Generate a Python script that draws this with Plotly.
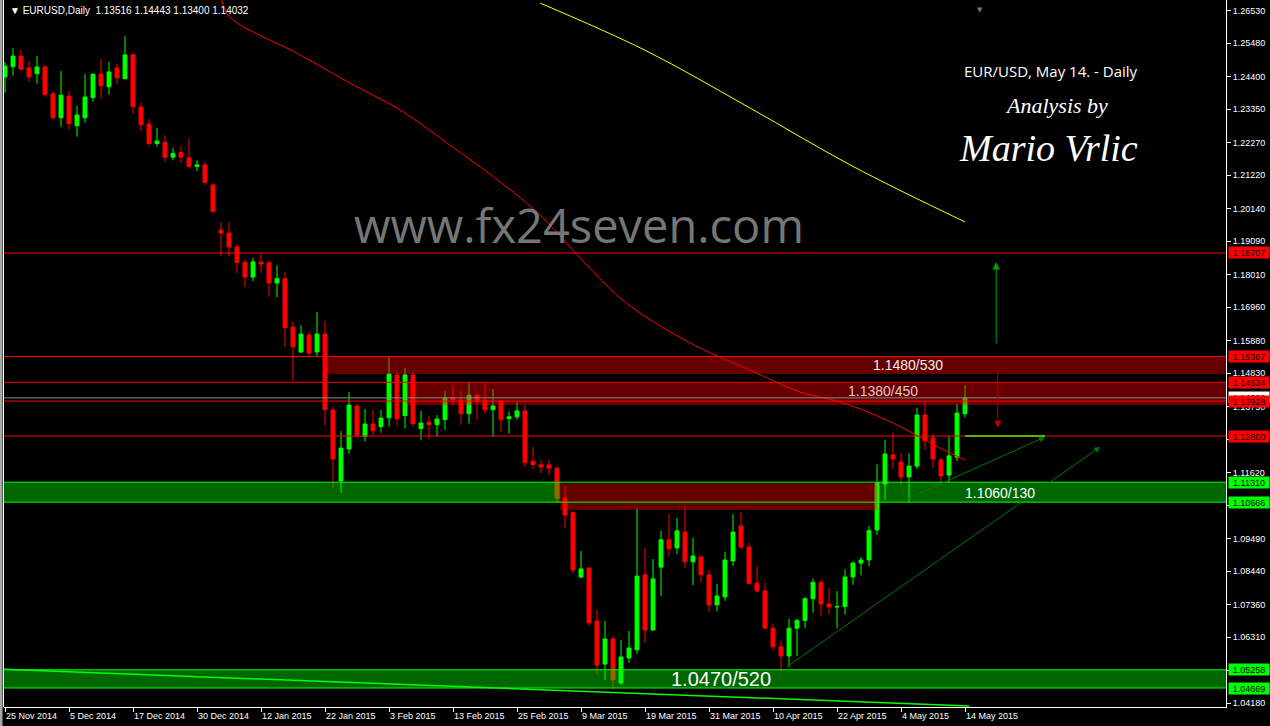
import plotly.graph_objects as go

# ---------------- data ----------------
bars = list(range(121))  # 25 Nov 2014 ... 14 May 2015 (daily bars)

opens = [1.2439,1.2472,1.2506,1.2468,1.2449,1.2471,1.2384,1.2307,1.2377,1.2281,
         1.2307,1.2372,1.2448,1.2407,1.2468,1.2433,1.2510,1.2342,1.2287,1.2224,
         1.2228,1.2180,1.2195,1.2178,1.2150,1.2155,1.2090,1.1945,1.1935,1.1890,
         1.1840,1.1793,1.1842,1.1839,1.1774,1.1788,1.1632,1.1551,1.1606,1.1551,
         1.1609,1.1364,1.1135,1.1238,1.1377,1.1278,1.1319,1.1310,1.1339,1.1477,
         1.1346,1.1477,1.1304,1.1325,1.1317,1.1333,1.1404,1.1396,1.1352,1.1412,
         1.1396,1.1365,1.1393,1.1336,1.1342,1.1361,1.1199,1.1187,1.1187,1.1176,
         1.1080,1.1033,1.0825,1.0854,1.0683,1.0544,1.0625,1.0483,1.0564,1.0590,
         1.0832,1.0654,1.0857,1.0945,1.0919,1.0970,1.0874,1.0890,1.0832,1.0735,
         1.0761,1.0877,1.0990,1.0922,1.0805,1.0780,1.0660,1.0600,1.0570,1.0660,
         1.0685,1.0755,1.0808,1.0738,1.0728,1.0730,1.0825,1.0870,1.0880,1.0977,
         1.1125,1.1219,1.1196,1.1148,1.1183,1.1348,1.1274,1.1203,1.1154,1.1212,
         1.13516]
highs = [1.2487,1.2532,1.2526,1.2490,1.2506,1.2477,1.2390,1.2458,1.2393,1.2345,
         1.2448,1.2449,1.2497,1.2487,1.2481,1.2571,1.2516,1.2355,1.2303,1.2274,
         1.2250,1.2210,1.2215,1.2240,1.2170,1.2165,1.2095,1.1970,1.1970,1.1900,
         1.1850,1.1855,1.1869,1.1845,1.1830,1.1810,1.1648,1.1638,1.1616,1.1680,
         1.1651,1.1374,1.1296,1.1422,1.1383,1.1367,1.1364,1.1364,1.1535,1.1487,
         1.1500,1.1487,1.1361,1.1345,1.1348,1.1425,1.1445,1.1429,1.1451,1.1416,
         1.1452,1.1432,1.1396,1.1359,1.1390,1.1380,1.1246,1.1203,1.1203,1.1181,
         1.1117,1.1036,1.0909,1.0857,1.0719,1.0683,1.0635,1.0622,1.0651,1.1048,
         1.0919,1.0883,1.0974,1.1028,1.1016,1.1054,1.0951,1.0896,1.0848,1.0803,
         1.0906,1.1028,1.1035,1.0935,1.0860,1.0805,1.0675,1.0620,1.0690,1.0690,
         1.0760,1.0820,1.0815,1.0790,1.0780,1.0850,1.0875,1.0890,1.0990,1.1189,
         1.1267,1.1290,1.1225,1.1225,1.1371,1.1390,1.1287,1.1209,1.1280,1.1383,
         1.14443]
lows = [1.2388,1.2443,1.2461,1.2423,1.2417,1.2375,1.2301,1.2278,1.2269,1.2246,
        1.2291,1.2359,1.2369,1.2382,1.2415,1.2432,1.2320,1.2265,1.2217,1.2214,
        1.2165,1.2170,1.2162,1.2143,1.2135,1.2090,1.2000,1.1860,1.1860,1.1805,
        1.1760,1.1780,1.1805,1.1730,1.1728,1.1567,1.1459,1.1548,1.1538,1.1538,
        1.1314,1.1113,1.1097,1.1223,1.1275,1.1262,1.1281,1.1291,1.1310,1.1314,
        1.1304,1.1310,1.1268,1.1271,1.1278,1.1300,1.1378,1.1317,1.1320,1.1333,
        1.1352,1.1278,1.1294,1.1288,1.1333,1.1181,1.1175,1.1161,1.1154,1.1064,
        1.0982,1.0837,1.0821,1.0667,1.0509,1.0493,1.0461,1.0477,1.0548,1.0577,
        1.0612,1.0652,1.0764,1.0890,1.0899,1.0854,1.0799,1.0809,1.0712,1.0715,
        1.0748,1.0861,1.0915,1.0800,1.0775,1.0660,1.0590,1.0520,1.0535,1.0570,
        1.0660,1.0710,1.0700,1.0705,1.0660,1.0705,1.0800,1.0830,1.0860,1.0960,
        1.1074,1.1174,1.1122,1.1067,1.1174,1.1235,1.1177,1.1129,1.1132,1.1199,
        1.13400]
closes = [1.2474,1.2506,1.2464,1.2439,1.2471,1.2382,1.2307,1.2380,1.2288,1.2316,
          1.2374,1.2448,1.2411,1.2455,1.2436,1.2510,1.2343,1.2285,1.2224,1.2232,
          1.2180,1.2192,1.2180,1.2150,1.2155,1.2098,1.2005,1.1935,1.1890,1.1840,
          1.1793,1.1842,1.1835,1.1774,1.1788,1.1630,1.1568,1.1609,1.1548,1.1609,
          1.1365,1.1206,1.1241,1.1380,1.1283,1.1319,1.1297,1.1338,1.1480,1.1336,
          1.1477,1.1320,1.1322,1.1317,1.1335,1.1403,1.1397,1.1352,1.1412,1.1392,
          1.1365,1.1377,1.1333,1.1342,1.1361,1.1194,1.1188,1.1180,1.1176,1.1079,
          1.1025,1.0848,1.0851,1.0677,1.0541,1.0625,1.0493,1.0567,1.0596,1.0828,
          1.0654,1.0819,1.0945,1.0916,1.0974,1.0874,1.0893,1.0832,1.0735,1.0764,
          1.0880,1.0970,1.0922,1.0805,1.0780,1.0660,1.0600,1.0570,1.0660,1.0685,
          1.0755,1.0808,1.0738,1.0728,1.0730,1.0825,1.0870,1.0880,1.0975,1.1129,
          1.1222,1.1206,1.1148,1.1183,1.1348,1.1264,1.1206,1.1151,1.1216,1.1354,
          1.14032]

date_tick_bars = [0, 8, 16, 24, 32, 40, 48, 56, 64, 72, 80, 88, 96, 104, 112, 120]
date_tick_labels = ["25 Nov 2014", "5 Dec 2014", "17 Dec 2014", "30 Dec 2014",
                    "12 Jan 2015", "22 Jan 2015", "3 Feb 2015", "13 Feb 2015",
                    "25 Feb 2015", "9 Mar 2015", "19 Mar 2015", "31 Mar 2015",
                    "10 Apr 2015", "22 Apr 2015", "4 May 2015", "14 May 2015"]

price_ticks = [1.26530, 1.25480, 1.24400, 1.23350, 1.22270, 1.21220, 1.20140,
               1.19090, 1.18010, 1.16960, 1.15880, 1.14830, 1.13750, 1.12700,
               1.11620, 1.10570, 1.09490, 1.08440, 1.07360, 1.06310, 1.05230,
               1.04180]

# moving averages (sampled along the drawn curves)
ma_red_bars = [27.1, 28.1, 36.9, 43.1, 49.4, 55.6, 61.9, 66.9, 71.9, 76.9,
               81.9, 86.9, 93.1, 99.4, 104.4, 109.4, 112.75, 116.9, 120]
ma_red_vals = [1.2687, 1.2632, 1.2510, 1.2419, 1.2332, 1.2219, 1.2100, 1.1993,
               1.1855, 1.1725, 1.1635, 1.1564, 1.1493, 1.1422, 1.1390, 1.1341,
               1.1299, 1.1241, 1.1203]
ma_yel_bars = [66.9, 80.0, 93.1, 106.0, 120]
ma_yel_vals = [1.2677, 1.2525, 1.2339, 1.2150, 1.1971]

# horizontal levels
red_levels = [1.18707, 1.15367, 1.14534, 1.13928, 1.12800]
green_levels = [1.11310, 1.10666, 1.05258, 1.04669]
bid_price = 1.14032

# zones
zone_start = [40.25, 50.3, 69.4, -1.0, 109.0, -1.0]
zone_end = [160, 160, 109.0, 69.4, 160, 160]
zone_low = [1.1480, 1.1380, 1.1041, 1.10666, 1.10666, 1.04669]
zone_high = [1.15367, 1.14534, 1.1128, 1.11310, 1.11310, 1.05258]
zone_kind = ["red", "red", "red", "green", "green", "green"]

zone_labels = ["1.1480/530", "1.1380/450", "1.1060/130", "1.0470/520"]
zone_label_bar = [112.9, 109.75, 124.4, 89.5]
zone_label_price = [1.1509, 1.1425, 1.1096, 1.0496]
zone_label_size = [14, 14, 14, 20]
zone_label_color = ["#f4eaea", "#e8c6c6", "#ffffff", "#ffffff"]

# trend lines / arrows: (bar0, price0, bar1, price1)
long_support = (-1.0, 1.0528, 120.5, 1.0409)
trend_arrows = [(97.5, 1.0531, 136.9, 1.1245), (112.5, 1.1074, 130.0, 1.1277)]
level_extension = (120.0, 130.0, 1.12800)
up_arrow = (123.9, 1.1574, 1.1842)
down_arrow = (124.1, 1.1503, 1.1306)

# ---------------- figure ----------------
L, R, T, B = 4, 44, 0, 19
W, H = 1270, 726
PW, PH = W - L - R, H - T - B


def px(xp):
    return (xp - L) / PW


def py(yp):
    return 1 - (yp - T) / PH


fig = go.Figure()

fig.add_trace(go.Scatter(x=ma_yel_bars, y=ma_yel_vals, mode="lines", line_shape="spline",
                         line=dict(color="#ffff00", width=1), hoverinfo="skip"))
fig.add_trace(go.Scatter(x=ma_red_bars, y=ma_red_vals, mode="lines", line_shape="spline",
                         line=dict(color="#ff0000", width=1), hoverinfo="skip"))

fig.add_trace(go.Candlestick(
    x=bars, open=opens, high=highs, low=lows, close=closes,
    increasing=dict(line=dict(color="#00ff00", width=1), fillcolor="#00ff00"),
    decreasing=dict(line=dict(color="#ff0000", width=1), fillcolor="#ff0000"),
    whiskerwidth=0, hoverinfo="skip"))

shapes = []
for xs, xe, lo, hi, k in zip(zone_start, zone_end, zone_low, zone_high, zone_kind):
    col = "rgba(255,0,0,0.40)" if k == "red" else "rgba(0,255,0,0.40)"
    shapes.append(dict(type="rect", xref="x", yref="y", x0=xs, x1=xe, y0=lo, y1=hi,
                       fillcolor=col, line=dict(width=0), layer="above"))
for lv in red_levels:
    shapes.append(dict(type="line", xref="paper", yref="y", x0=0, x1=1, y0=lv, y1=lv,
                       line=dict(color="#ff0000", width=1), layer="above"))
for lv in green_levels:
    shapes.append(dict(type="line", xref="paper", yref="y", x0=0, x1=1, y0=lv, y1=lv,
                       line=dict(color="#00ff00", width=1), layer="above"))
shapes.append(dict(type="line", xref="paper", yref="y", x0=0, x1=1, y0=bid_price, y1=bid_price,
                   line=dict(color="#8c8c8c", width=1), layer="above"))
shapes.append(dict(type="line", xref="x", yref="y", x0=level_extension[0], x1=level_extension[1],
                   y0=level_extension[2], y1=level_extension[2],
                   line=dict(color="#5fb000", width=2), layer="above"))
shapes.append(dict(type="line", xref="x", yref="y", x0=long_support[0], y0=long_support[1],
                   x1=long_support[2], y1=long_support[3],
                   line=dict(color="#00ff00", width=1.5), layer="above"))
shapes.append(dict(type="rect", xref="paper", yref="paper", x0=px(0), x1=px(2.5), y0=py(H), y1=py(0),
                   fillcolor="#a8a8a8", line=dict(width=0), layer="above"))
shapes.append(dict(type="line", xref="paper", yref="paper", x0=px(3.5), x1=px(3.5), y0=py(707), y1=py(0),
                   line=dict(color="#ffffff", width=1), layer="above"))

ann = []
for (b0, p0, b1, p1) in trend_arrows:
    ann.append(dict(x=b1, y=p1, ax=b0, ay=p0, xref="x", yref="y", axref="x", ayref="y",
                    text="", showarrow=True, arrowhead=2, arrowsize=1.2, arrowwidth=1,
                    arrowcolor="#007a00", standoff=0))
ann.append(dict(x=up_arrow[0], y=up_arrow[2], ax=up_arrow[0], ay=up_arrow[1], xref="x", yref="y",
                axref="x", ayref="y", text="", showarrow=True, arrowhead=2, arrowsize=1.5,
                arrowwidth=1, arrowcolor="#00a000", standoff=0))
ann.append(dict(x=down_arrow[0], y=down_arrow[2], ax=down_arrow[0], ay=down_arrow[1], xref="x", yref="y",
                axref="x", ayref="y", text="", showarrow=True, arrowhead=2, arrowsize=1.5,
                arrowwidth=1, arrowcolor="#b00000", standoff=0))

for t, b, p, s, c in zip(zone_labels, zone_label_bar, zone_label_price, zone_label_size, zone_label_color):
    ann.append(dict(x=b, y=p, xref="x", yref="y", text=t, showarrow=False, xanchor="center",
                    font=dict(family="Liberation Sans", size=s, color=c)))

ann.append(dict(x=1, y=bid_price, xref="paper", yref="y", xanchor="left", xshift=2, text="%.5f" % bid_price,
                showarrow=False, bgcolor="#ffffff", width=40, height=11, borderpad=0,
                font=dict(family="Liberation Sans", size=9, color="#000000")))
for lv in red_levels:
    ann.append(dict(x=1, y=lv, xref="paper", yref="y", xanchor="left", xshift=2, text="%.5f" % lv,
                    showarrow=False, bgcolor="#ff0000", width=40, height=11, borderpad=0,
                    font=dict(family="Liberation Sans", size=9, color="#000000")))
for lv in green_levels:
    ann.append(dict(x=1, y=lv, xref="paper", yref="y", xanchor="left", xshift=2, text="%.5f" % lv,
                    showarrow=False, bgcolor="#00ff00", width=40, height=11, borderpad=0,
                    font=dict(family="Liberation Sans", size=9, color="#000000")))

ann.append(dict(x=px(8), y=py(10), xref="paper", yref="paper", xanchor="left", yanchor="middle",
                text="\u25BC EURUSD,Daily  1.13516 1.14443 1.13400 1.14032", showarrow=False,
                font=dict(family="Liberation Sans", size=10, color="#ffffff")))
ann.append(dict(x=px(980), y=py(4), xref="paper", yref="paper", xanchor="center", text="\u25BC",
                showarrow=False, font=dict(family="DejaVu Sans", size=7, color="#777777")))
ann.append(dict(x=px(579), y=py(225), xref="paper", yref="paper", xanchor="center", yanchor="middle",
                text="www.fx24seven.com", showarrow=False,
                font=dict(family="Open Sans", size=47, color="#767676")))
ann.append(dict(x=px(1051), y=py(71), xref="paper", yref="paper", xanchor="center", yanchor="middle",
                text="EUR/USD, May 14. - Daily", showarrow=False,
                font=dict(family="Open Sans", size=15, color="#ffffff")))
ann.append(dict(x=px(1056), y=py(106), xref="paper", yref="paper", xanchor="center", yanchor="middle",
                text="Analysis by", showarrow=False,
                font=dict(family="Liberation Serif", size=22, color="#ffffff", style="italic")))
ann.append(dict(x=px(1048), y=py(148), xref="paper", yref="paper", xanchor="center", yanchor="middle",
                text="Mario Vrlic", showarrow=False,
                font=dict(family="Liberation Serif", size=38, color="#ffffff", style="italic")))

fig.update_layout(
    width=W, height=H, margin=dict(l=L, r=R, t=T, b=B),
    paper_bgcolor="#000000", plot_bgcolor="#000000", showlegend=False,
    shapes=shapes, annotations=ann, hovermode=False,
    xaxis=dict(range=[-0.125, -0.125 + PW / 8.0], showgrid=False, zeroline=False,
               showline=True, linecolor="#ffffff", linewidth=1, ticks="outside", ticklen=4,
               tickcolor="#ffffff", tickvals=date_tick_bars, ticktext=date_tick_labels,
               ticklabelposition="outside right",
               tickfont=dict(family="Liberation Sans", size=9, color="#ffffff"),
               rangeslider=dict(visible=False), fixedrange=True),
    yaxis=dict(range=[1.04056, 1.26871], side="right", showgrid=False, zeroline=False,
               showline=True, linecolor="#ffffff", linewidth=1, ticks="outside", ticklen=4,
               tickcolor="#ffffff", tickvals=price_ticks, ticktext=["%.5f" % v for v in price_ticks],
               tickfont=dict(family="Liberation Sans", size=9, color="#ffffff"), fixedrange=True),
)

fig.write_html("out.html", config={"displayModeBar": False},
               post_script="document.body.style.margin='0';document.body.style.background='#000';")
